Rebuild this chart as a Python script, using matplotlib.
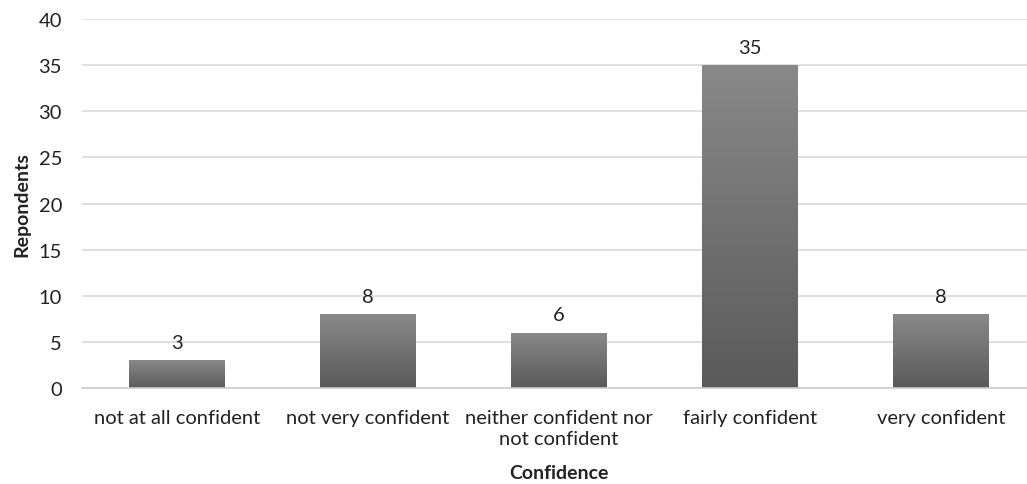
import matplotlib
matplotlib.use("Agg")
import matplotlib.pyplot as plt
import numpy as np
from matplotlib.colors import LinearSegmentedColormap

categories = ["not at all confident", "not very confident",
              "neither confident nor\nnot confident", "fairly confident", "very confident"]
values = [3, 8, 6, 35, 8]
yticks = [0, 5, 10, 15, 20, 25, 30, 35, 40]

plt.rcParams['font.family'] = ['Lato', 'DejaVu Sans']

fig = plt.figure(figsize=(10.27, 4.85), dpi=100)
ax = fig.add_axes([81.5/1027, 96/485, 955/1027, 369/485])

x = np.arange(len(categories))
bars = ax.bar(x, values, width=0.5, color='none', edgecolor='none', zorder=2)
cmap = LinearSegmentedColormap.from_list('g', ['#5a5a5a', '#898989'])
grad = np.linspace(0, 1, 256).reshape(-1, 1)
for b in bars:
    x0, y0 = b.get_x(), b.get_y()
    w, h = b.get_width(), b.get_height()
    im = ax.imshow(grad, cmap=cmap, origin='lower', aspect='auto',
                   extent=[x0, x0 + w, y0, y0 + h], zorder=2)
    im.set_clip_path(b)
for xi, v in zip(x, values):
    ax.text(xi, v + 1.0, str(v), ha='center', va='bottom', fontsize=14.5, color='#222222')

ax.set_xlim(-0.5, len(categories) - 0.5)
ax.set_ylim(0, 40)
ax.set_yticks(yticks)
ax.set_xticks(x)
ax.set_xticklabels(categories, fontsize=14.5, color='#222222', linespacing=1.3)
ax.tick_params(axis='y', labelsize=14.5, colors='#222222', length=0, pad=14)
ax.tick_params(axis='x', length=0, pad=15)
ax.grid(axis='y', color='#d3d6de', linewidth=1.1, zorder=0)
ax.set_axisbelow(True)
for s in ['top', 'right', 'left']:
    ax.spines[s].set_visible(False)
ax.spines['bottom'].set_color('#c8ccd6')
ax.spines['bottom'].set_linewidth(1.2)

ax.set_ylabel('Repondents', fontsize=14, fontweight='bold', color='#222222', labelpad=6)
ax.set_xlabel('Confidence', fontsize=14, fontweight='bold', color='#222222', labelpad=12)

fig.savefig('out.png', dpi=100)
